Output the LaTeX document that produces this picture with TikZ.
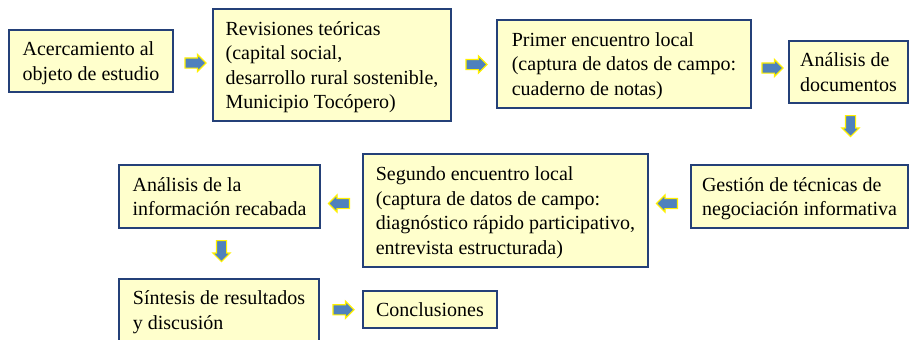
\documentclass[tikz,border=0pt]{standalone}
\usepackage{fontspec}
\setmainfont{Liberation Serif}
\usetikzlibrary{calc}
\usetikzlibrary{positioning}
\usetikzlibrary{shapes.arrows}
\definecolor{borde}{RGB}{36,64,120}
\definecolor{relleno}{RGB}{255,255,204}
\definecolor{azul}{RGB}{79,129,189}
\definecolor{amarillo}{RGB}{255,240,0}

\begin{document}
\begin{tikzpicture}[x=1pt,y=-1pt,
    caja/.style 2 args={draw=borde,line width=1.1pt,fill=relleno,align=left,inner sep=0pt,
      text depth=0pt,minimum width=#1pt,minimum height=#2pt,font=\fontsize{20}{24.5}\selectfont},
    flecha/.style={single arrow,draw=amarillo,fill=azul,line width=1.2pt,inner sep=4.5pt,
      minimum height=21pt,single arrow head extend=3.5pt}]
  \useasboundingbox (0,0) rectangle (911,340);
  % fila de arriba
  \node[caja={164}{62}] (acerca) at (91,61) {Acercamiento al\\objeto de estudio};
  \node[caja={238}{112}] (revis) at (332,65) {Revisiones teóricas\\(capital social,\\desarrollo rural sostenible,\\Municipio Tocópero)};
  \node[caja={254}{88}] (prim) at (624,64) {Primer encuentro local\\(captura de datos de campo:\\cuaderno de notas)};
  \node[caja={119}{62}] (docs) at (848.5,72) {Análisis de\\documentos};
  % fila del medio
  \node[caja={217}{63}] (gest) at (799.5,196.5) {Gestión de técnicas de\\negociación informativa};
  \node[caja={285}{113}] (segun) at (505.5,210.5) {Segundo encuentro local\\(captura de datos de campo:\\diagnóstico rápido participativo,\\entrevista estructurada)};
  \node[caja={201}{63}] (infor) at (219.5,196.5) {Análisis de la\\información recabada};
  % fila de abajo
  \node[caja={200}{62}] (sint) at (219,310) {Síntesis de resultados\\y discusión};
  \node[caja={134}{37}] (concl) at (430,309.5) {Conclusiones};
  % flechas
  \node[flecha] (f1) at ($(acerca.east)!.5!(revis.west)$ |- acerca) {};
  \node[flecha] (f2) at ($(revis.east)!.5!(prim.west)$ |- acerca) {};
  \node[flecha] (f3) at ($(prim.east)!.5!(docs.west)$ |- acerca) {};
  \node[flecha,shape border rotate=270] (f4) at ($(docs.south)+(2,20)$) {};
  \node[flecha,shape border rotate=180] (f5) at ($(segun.east)!.5!(gest.west)$ |- gest) {};
  \node[flecha,shape border rotate=180] (f6) at ($(infor.east)!.5!(segun.west)$ |- gest) {};
  \node[flecha,shape border rotate=270] (f7) at ($(infor.south)+(2,20)$) {};
  \node[flecha] (f8) at ($(sint.east)!.5!(concl.west)$ |- concl) {};
\end{tikzpicture}
\end{document}
